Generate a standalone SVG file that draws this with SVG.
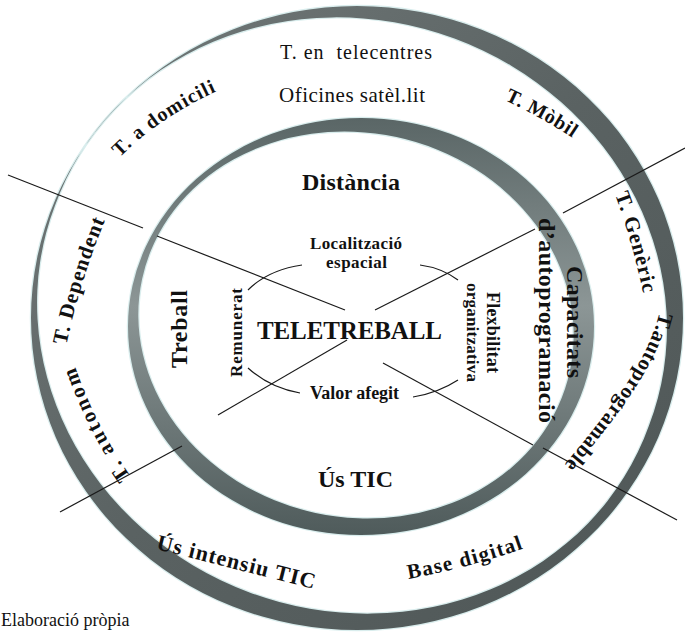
<svg xmlns="http://www.w3.org/2000/svg" width="685" height="632" viewBox="0 0 685 632">
<style>
  .ring { fill-rule: evenodd; stroke: #d9eded; stroke-width: 2.5; paint-order: stroke; }
  .ln { stroke: #1a1a1a; stroke-width: 1.2; fill: none; }
  .t { font-family: "Liberation Serif", "Times New Roman", serif; fill: #111; }
  .b { font-weight: bold; }
</style>
<defs>
  <linearGradient id="gOuter" x1="0" y1="0" x2="1" y2="1">
    <stop offset="0" stop-color="#737b7b"/>
    <stop offset="0.5" stop-color="#5a6262"/>
    <stop offset="1" stop-color="#4e5656"/>
  </linearGradient>
  <linearGradient id="gInner" x1="0" y1="0" x2="0" y2="1">
    <stop offset="0" stop-color="#5a6666"/>
    <stop offset="0.45" stop-color="#8c9696"/>
    <stop offset="1" stop-color="#4f5b5b"/>
  </linearGradient>
  <path id="p-dom" d="M116,161 Q160,116 222,89"/>
  <path id="p-mob" d="M500,98 Q540,116 577,141"/>
  <path id="p-gen" d="M614,192 Q632,240 644,297"/>
  <path id="p-aut" d="M661,306 C650,360 610,410 560,470"/>
  <path id="p-dep" d="M66,347 Q80,280 106,218"/>
  <path id="p-ato" d="M132,478 Q96,428 74,363"/>
  <path id="p-us" d="M156,549 L314,589"/>
  <path id="p-base" d="M408,579 Q468,568 525,548"/>
</defs>
<rect width="685" height="632" fill="#ffffff"/>

<g id="outer-ring">
  <path class="ring" fill="url(#gOuter)" d="M31,318 A326,312 0 1,0 683,318 A326,312 0 1,0 31,318 Z M55,205.6 A316.7,292.1 20.3 1,0 649,425.4 A316.7,292.1 20.3 1,0 55,205.6 Z"/>
</g>
<g id="inner-ring">
  <path class="ring" fill="url(#gInner)" d="M128,326.5 A233,208.5 0 1,0 594,326.5 A233,208.5 0 1,0 128,326.5 Z M142.1,278.9 A218.8,192.2 12.15 1,0 569.9,371.1 A218.8,192.2 12.15 1,0 142.1,278.9 Z"/>
</g>

<g id="connectors">
  <line class="ln" x1="8" y1="175" x2="143" y2="228"/>
  <line class="ln" x1="157" y1="236" x2="345" y2="310"/>
  <line class="ln" x1="383" y1="363" x2="533" y2="445"/>
  <line class="ln" x1="543" y1="448" x2="677" y2="520"/>
  <line class="ln" x1="60" y1="512" x2="182" y2="446"/>
  <line class="ln" x1="218" y1="415" x2="347" y2="340"/>
  <line class="ln" x1="375" y1="310" x2="535" y2="229"/>
  <line class="ln" x1="563" y1="213" x2="685" y2="148"/>
  <path class="ln" d="M248,290 Q268,270 302,265"/>
  <path class="ln" d="M420,265 Q442,268 458,280"/>
  <path class="ln" d="M248,368 Q270,388 300,393"/>
  <path class="ln" d="M413,397 Q438,393 458,380"/>
</g>

<g id="n-telecentres"><text class="t" x="356" y="59" font-size="20" text-anchor="middle" textLength="152" lengthAdjust="spacing" xml:space="preserve">T. en  telecentres</text></g>
<g id="n-oficines"><text class="t" x="352" y="102" font-size="21" text-anchor="middle" textLength="146" lengthAdjust="spacing">Oficines satèl.lit</text></g>
<g id="n-domicili"><text class="t b" font-size="20" letter-spacing="1"><textPath href="#p-dom" startOffset="50%" text-anchor="middle">T. a domicili</textPath></text></g>
<g id="n-mobil"><text class="t b" font-size="20" letter-spacing="0.7"><textPath href="#p-mob" startOffset="50%" text-anchor="middle">T. Mòbil</textPath></text></g>
<g id="n-generic"><text class="t b" font-size="21" letter-spacing="1"><textPath href="#p-gen" startOffset="50%" text-anchor="middle">T. Genèric</textPath></text></g>
<g id="n-autoprogramable"><text class="t b" font-size="21" letter-spacing="0.5"><textPath href="#p-aut" startOffset="50%" text-anchor="middle">T.autoprogramable</textPath></text></g>
<g id="n-dependent"><text class="t b" font-size="21" letter-spacing="1"><textPath href="#p-dep" startOffset="50%" text-anchor="middle">T. Dependent</textPath></text></g>
<g id="n-autonom"><text class="t b" font-size="21" letter-spacing="2.3"><textPath href="#p-ato" startOffset="50%" text-anchor="middle">T. autonom</textPath></text></g>
<g id="n-us-intensiu"><text class="t b" font-size="22" letter-spacing="1"><textPath href="#p-us" startOffset="50%" text-anchor="middle">Ús intensiu TIC</textPath></text></g>
<g id="n-base-digital"><text class="t b" font-size="21" letter-spacing="1.3"><textPath href="#p-base" startOffset="50%" text-anchor="middle">Base digital</textPath></text></g>

<g id="n-distancia"><text class="t b" x="351" y="190" font-size="24" text-anchor="middle" textLength="98" lengthAdjust="spacing">Distància</text></g>
<g id="n-localitzacio"><text class="t b" x="356" y="249" font-size="17" text-anchor="middle" textLength="92" lengthAdjust="spacing">Localització</text><text class="t b" x="356.5" y="268" font-size="17" text-anchor="middle" textLength="61" lengthAdjust="spacing">espacial</text></g>
<g id="n-teletreball"><text class="t b" x="349.5" y="339" font-size="25" text-anchor="middle" textLength="185" lengthAdjust="spacing">TELETREBALL</text></g>
<g id="n-valor"><text class="t b" x="354.5" y="399" font-size="18" text-anchor="middle" textLength="89" lengthAdjust="spacing">Valor afegit</text></g>
<g id="n-us-tic"><text class="t b" x="355.5" y="487" font-size="24" text-anchor="middle" textLength="75" lengthAdjust="spacing">Ús TIC</text></g>
<g id="n-treball"><text class="t b" transform="translate(187,329) rotate(-90)" font-size="24" text-anchor="middle" textLength="78" lengthAdjust="spacing">Treball</text></g>
<g id="n-remunerat"><text class="t b" transform="translate(242,332.5) rotate(-90)" font-size="17" text-anchor="middle" textLength="89" lengthAdjust="spacing">Remunerat</text></g>
<g id="n-flexibilitat"><text class="t b" transform="translate(487,332.5) rotate(90)" font-size="18" text-anchor="middle" textLength="81" lengthAdjust="spacing">Flexbilitat</text><text class="t b" transform="translate(467,332.5) rotate(90)" font-size="17" text-anchor="middle" textLength="99" lengthAdjust="spacing">organitzativa</text></g>
<g id="n-capacitats"><text class="t b" transform="translate(567,322) rotate(90)" font-size="24" text-anchor="middle" textLength="112" lengthAdjust="spacing">Capacitats</text><text class="t b" transform="translate(539,320.5) rotate(90)" font-size="24" text-anchor="middle" textLength="205" lengthAdjust="spacing">d’autoprogramació</text></g>

<g id="n-font"><text class="t" x="1" y="626" font-size="18">Elaboració pròpia</text></g>
</svg>
